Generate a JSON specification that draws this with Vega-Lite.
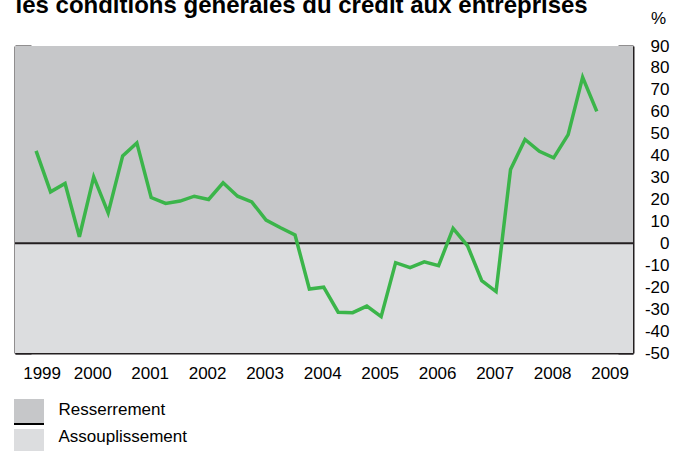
{
  "$schema": "https://vega.github.io/schema/vega-lite/v6.json",
  "width": 618,
  "height": 307,
  "autosize": {"type": "none"},
  "padding": {"left": 15, "top": 46, "right": 46, "bottom": 98},
  "background": "white",
  "config": {
    "view": {"stroke": null},
    "font": "Liberation Sans",
    "axis": {
      "grid": false,
      "zindex": 1,
      "domainColor": "#231f20",
      "domainWidth": 2,
      "tickColor": "#231f20",
      "tickWidth": 2,
      "labelFont": "Liberation Sans",
      "labelFontSize": 17,
      "labelColor": "black",
      "labelFlush": false
    },
    "legend": {
      "orient": "none",
      "legendX": 0.5,
      "legendY": 352,
      "title": null,
      "symbolType": "M-1.2,1H1.2V-1H-1.2Z",
      "symbolSize": 625,
      "labelFont": "Liberation Sans",
      "labelFontSize": 17,
      "labelColor": "black",
      "labelOffset": 16,
      "rowPadding": -7,
      "padding": 0
    }
  },
  "datasets": {
    "zones": [
      {"zone": "Resserrement", "lo": 0, "hi": 90},
      {"zone": "Assouplissement", "lo": -50, "hi": 0}
    ],
    "series": [
      {"date": "1999-07-01", "value": 42.2},
      {"date": "1999-10-01", "value": 23.5},
      {"date": "2000-01-01", "value": 27.3},
      {"date": "2000-04-01", "value": 3.0},
      {"date": "2000-07-01", "value": 30.3},
      {"date": "2000-10-01", "value": 13.9},
      {"date": "2001-01-01", "value": 39.9},
      {"date": "2001-04-01", "value": 45.8},
      {"date": "2001-07-01", "value": 20.9},
      {"date": "2001-10-01", "value": 18.2},
      {"date": "2002-01-01", "value": 19.3},
      {"date": "2002-04-01", "value": 21.5},
      {"date": "2002-07-01", "value": 20.0},
      {"date": "2002-10-01", "value": 27.6},
      {"date": "2003-01-01", "value": 21.5},
      {"date": "2003-04-01", "value": 18.9},
      {"date": "2003-07-01", "value": 10.6},
      {"date": "2003-10-01", "value": 7.1},
      {"date": "2004-01-01", "value": 3.8},
      {"date": "2004-04-01", "value": -20.8},
      {"date": "2004-07-01", "value": -20.0},
      {"date": "2004-10-01", "value": -31.4},
      {"date": "2005-01-01", "value": -31.6},
      {"date": "2005-04-01", "value": -28.6},
      {"date": "2005-07-01", "value": -33.4},
      {"date": "2005-10-01", "value": -8.8},
      {"date": "2006-01-01", "value": -11.1},
      {"date": "2006-04-01", "value": -8.4},
      {"date": "2006-07-01", "value": -10.2},
      {"date": "2006-10-01", "value": 6.8},
      {"date": "2007-01-01", "value": -1.1},
      {"date": "2007-04-01", "value": -17.0},
      {"date": "2007-07-01", "value": -22.0},
      {"date": "2007-10-01", "value": 33.7},
      {"date": "2008-01-01", "value": 47.4},
      {"date": "2008-04-01", "value": 42.0},
      {"date": "2008-07-01", "value": 39.0},
      {"date": "2008-10-01", "value": 49.6},
      {"date": "2009-01-01", "value": 75.7},
      {"date": "2009-04-01", "value": 60.2}
    ]
  },
  "layer": [
    {
      "data": {"name": "zones"},
      "mark": {"type": "rect"},
      "encoding": {
        "y": {
          "field": "lo",
          "type": "quantitative",
          "scale": {"domain": [-50, 90], "nice": false, "zero": false},
          "axis": {
            "orient": "left",
            "labels": false,
            "tickSize": -16,
            "values": [-50, -40, -30, -20, -10, 0, 10, 20, 30, 40, 50, 60, 70, 80, 90],
            "title": "les conditions générales du crédit aux entreprises",
            "titleAngle": 0,
            "titleX": 0,
            "titleY": -34,
            "titleAlign": "left",
            "titleBaseline": "alphabetic",
            "titleFont": "Liberation Sans",
            "titleFontSize": 24,
            "titleFontWeight": "bold",
            "titleColor": "black",
            "titleLimit": 0
          }
        },
        "y2": {"field": "hi"},
        "color": {
          "field": "zone",
          "type": "nominal",
          "scale": {"domain": ["Resserrement", "Assouplissement"], "range": ["#c6c7c9", "#dcdddf"]},
          "legend": {
            "encode": {
              "symbols": {
                "update": {
                  "stroke": [{"test": "datum.value === 'Resserrement'", "value": "black"}, {"value": "transparent"}],
                  "strokeWidth": {"value": 2},
                  "strokeDash": {"value": [30, 200]},
                  "opacity": {"value": 1}
                }
              },
              "labels": {
                "update": {
                  "dy": [{"test": "datum.value === 'Resserrement'", "value": -2}, {"value": -5}]
                }
              }
            }
          }
        }
      }
    },
    {
      "data": {"values": [{}]},
      "mark": {"type": "rule", "color": "#231f20", "strokeWidth": 2},
      "encoding": {
        "y": {"datum": 0, "type": "quantitative", "axis": null}
      }
    },
    {
      "data": {"name": "series"},
      "mark": {"type": "line", "color": "#3bb54a", "strokeWidth": 3.5, "strokeJoin": "miter"},
      "encoding": {
        "x": {
          "field": "date",
          "type": "temporal",
          "scale": {
            "type": "utc",
            "domain": [
              {"year": 1999, "month": 2, "date": 17, "utc": true},
              {"year": 2009, "month": 11, "date": 17, "utc": true}
            ]
          },
          "axis": {
            "orient": "bottom",
            "title": null,
            "labelExpr": "utcFormat(datum.value, '%Y')",
            "values": [
              {"year": 1999, "month": 7, "date": 1, "utc": true},
              {"year": 2000, "month": 7, "date": 1, "utc": true},
              {"year": 2001, "month": 7, "date": 1, "utc": true},
              {"year": 2002, "month": 7, "date": 1, "utc": true},
              {"year": 2003, "month": 7, "date": 1, "utc": true},
              {"year": 2004, "month": 7, "date": 1, "utc": true},
              {"year": 2005, "month": 7, "date": 1, "utc": true},
              {"year": 2006, "month": 7, "date": 1, "utc": true},
              {"year": 2007, "month": 7, "date": 1, "utc": true},
              {"year": 2008, "month": 7, "date": 1, "utc": true},
              {"year": 2009, "month": 7, "date": 1, "utc": true}
            ],
            "tickSize": -9,
            "tickOffset": -28.5,
            "tickOpacity": {"condition": {"test": "utcyear(datum.value) < 2000", "value": 0}, "value": 1},
            "labelOffset": {"condition": {"test": "utcyear(datum.value) < 2000", "value": 34}, "value": 27},
            "labelPadding": 21
          }
        },
        "y": {
          "field": "value",
          "type": "quantitative",
          "axis": {
            "orient": "right",
            "tickSize": -15,
            "labelPadding": 51,
            "labelAlign": "right",
            "labelExpr": "datum.value < 0 ? '-' + abs(datum.value) : '' + datum.value",
            "values": [-50, -40, -30, -20, -10, 0, 10, 20, 30, 40, 50, 60, 70, 80, 90],
            "title": "%",
            "titleAngle": 0,
            "titleX": 25,
            "titleY": -28,
            "titleAlign": "center",
            "titleBaseline": "middle",
            "titleFont": "Liberation Sans",
            "titleFontSize": 17,
            "titleFontWeight": "normal",
            "titleColor": "black"
          }
        }
      }
    }
  ],
  "resolve": {"axis": {"y": "independent"}}
}
